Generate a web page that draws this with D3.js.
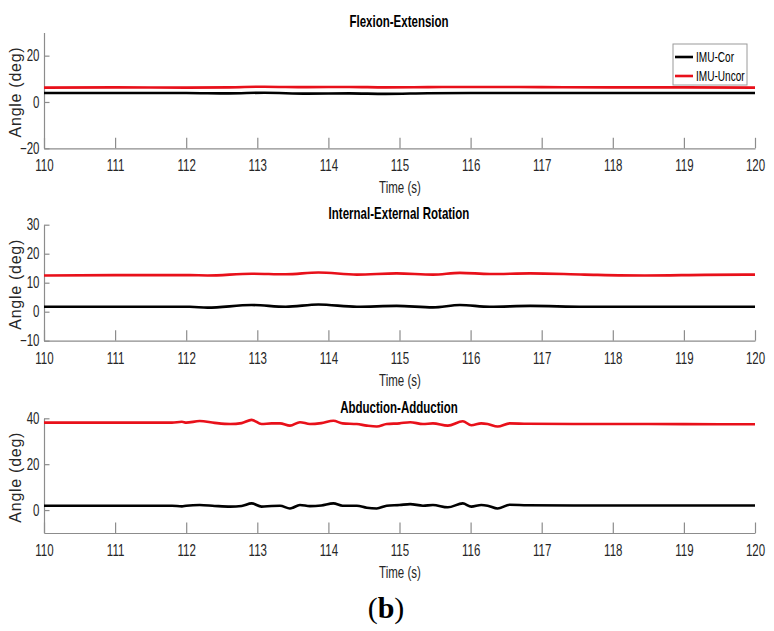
<!DOCTYPE html>
<html>
  <head>
    <meta charset="utf-8">
    <title>IMU angles</title>
    <script src="https://d3js.org/d3.v7.min.js"></script>
    <style>
      body { margin: 0; background: #fff; }
      svg { display: block; }
      text { font-family: "Liberation Sans", Arial, sans-serif; }
      .tick text { font-size: 16px; fill: #262626; }
      .axis path, .axis line { stroke: #8c8c8c; stroke-width: 1.2; }
      .title { font-weight: bold; font-size: 16px; fill: #000; }
      .label { font-size: 16px; fill: #262626; }
      .ylabel { font-size: 16px; fill: #262626; }
      .legend text { font-size: 14px; fill: #000; }
    </style>
  </head>
  <body>
    <svg id="chart" width="774" height="631"></svg>
    <script>
      // data
      var xTicks = [110, 111, 112, 113, 114, 115, 116, 117, 118, 119, 120];
      var seriesNames = ["IMU-Cor", "IMU-Uncor"];
      var seriesColours = ["#000000", "#e8101a"];

      // flexion-extension
      var fxTime = [110, 111, 112, 112.6, 113.1, 113.7, 114.3, 114.8, 115.4, 116, 117, 118, 119, 120];
      var fxCor = [3.9, 3.9, 3.9, 3.7, 4.0, 3.6, 3.7, 3.5, 3.8, 3.9, 3.9, 3.9, 3.9, 3.9];
      var fxUncor = [6.2, 6.3, 6.2, 6.3, 6.6, 6.4, 6.5, 6.3, 6.4, 6.5, 6.4, 6.3, 6.3, 6.2];
      var fxTicks = [-20, 0, 20];

      // internal-external rotation
      var ieTime = [110, 111, 112.05, 112.3, 112.92, 113.4, 113.86, 114.4, 114.96, 115.47, 115.85, 116.27, 116.84, 117.6, 118.45, 119.3, 120];
      var ieCor = [1.7, 1.7, 1.7, 1.4, 2.3, 1.7, 2.5, 1.7, 2.0, 1.5, 2.3, 1.7, 2.0, 1.7, 1.7, 1.7, 1.7];
      var ieUncor = [12.5, 12.6, 12.6, 12.5, 13.1, 12.9, 13.5, 12.8, 13.2, 12.8, 13.4, 13.0, 13.2, 12.8, 12.5, 12.7, 12.8];
      var ieTicks = [-10, 0, 10, 20, 30];

      // abduction-adduction
      var aaTime = [110, 111, 111.8, 111.94, 112.0, 112.19, 112.4, 112.62, 112.78, 112.92, 113.06, 113.2, 113.32, 113.46, 113.6, 113.74, 113.9, 114.07, 114.2, 114.4, 114.54, 114.68, 114.82, 115.0, 115.15, 115.33, 115.47, 115.68, 115.89, 116.01, 116.15, 116.24, 116.38, 116.55, 116.8, 117.5, 118.5, 119.5, 120];
      var aaCor = [1.9, 1.9, 1.9, 1.6, 1.9, 2.2, 1.8, 1.5, 1.8, 2.9, 1.5, 1.8, 1.9, 0.7, 2.2, 1.7, 2.0, 2.9, 1.9, 1.9, 1.0, 0.7, 1.9, 2.2, 2.6, 1.9, 2.2, 1.2, 2.9, 1.5, 2.2, 1.9, 0.7, 2.3, 2.1, 2.0, 2.0, 2.0, 2.0];
      var aaUncor = [38.1, 38.1, 38.1, 38.5, 38.1, 38.8, 38.0, 37.5, 37.9, 39.3, 37.5, 37.8, 37.8, 36.8, 38.3, 37.5, 37.9, 38.9, 37.8, 37.5, 36.8, 36.4, 37.5, 37.8, 38.3, 37.5, 37.8, 36.8, 38.7, 37.0, 37.8, 37.5, 36.4, 37.8, 37.6, 37.5, 37.5, 37.4, 37.4];
      var aaTicks = [0, 20, 40];

      // panel layout
      var panels = [
        { title: "Flexion-Extension", time: fxTime, cor: fxCor, uncor: fxUncor, ticks: fxTicks, domain: [-20, 30], top: 32.5, bottom: 148.3, legend: true },
        { title: "Internal-External Rotation", time: ieTime, cor: ieCor, uncor: ieUncor, ticks: ieTicks, domain: [-10, 30], top: 224.7, bottom: 340.7 },
        { title: "Abduction-Adduction", time: aaTime, cor: aaCor, uncor: aaUncor, ticks: aaTicks, domain: [-10, 40], top: 418.3, bottom: 533 }
      ];

      var chart = d3.select("#chart");
      var left = 44, right = 755;
      var squeeze = 0.72; // the figure uses a condensed face
      var x = d3.scaleLinear().domain([110, 120]).range([left, right]);

      // condensed text placed at (tx, ty)
      function narrowText(parent, tx, ty, cls, anchor, str) {
        return parent.append("text")
          .attr("class", cls)
          .attr("transform", "translate(" + tx + "," + ty + ") scale(" + squeeze + ",1)")
          .attr("dy", "0.35em")
          .attr("text-anchor", anchor)
          .text(str);
      }

      panels.forEach(function(p) {
        var g = chart.append("g");
        var y = d3.scaleLinear().domain(p.domain).range([p.bottom, p.top]);

        var xg = g.append("g")
          .attr("class", "axis")
          .attr("transform", "translate(0," + p.bottom + ")")
          .call(d3.axisBottom(x).tickValues(xTicks).tickFormat(d3.format("d"))
            .tickSizeInner(-10.5).tickSizeOuter(0).tickPadding(11.5));
        xg.selectAll(".tick text").attr("transform", "scale(" + squeeze + ",1)");

        var yg = g.append("g")
          .attr("class", "axis")
          .attr("transform", "translate(" + left + ",0)")
          .call(d3.axisLeft(y).tickValues(p.ticks).tickFormat(d3.format("d"))
            .tickSizeInner(-5.5).tickSizeOuter(0).tickPadding(4.5));
        yg.selectAll(".tick text")
          .attr("x", -4.5 / squeeze)
          .attr("transform", "scale(" + squeeze + ",1)");

        var line = d3.line()
          .x(function(d) { return x(d[0]); })
          .y(function(d) { return y(d[1]); })
          .curve(d3.curveMonotoneX);

        [p.cor, p.uncor].forEach(function(vals, i) {
          g.append("path")
            .datum(p.time.map(function(t, j) { return [t, vals[j]]; }))
            .attr("d", line)
            .attr("fill", "none")
            .attr("stroke", seriesColours[i])
            .attr("stroke-width", 2.6)
            .attr("stroke-linejoin", "round");
        });

        narrowText(g, 399, p.top - 11, "title", "middle", p.title);
        narrowText(g, 400, p.bottom + 39.5, "label", "middle", "Time (s)");

        g.append("text")
          .attr("class", "ylabel")
          .attr("transform", "translate(15," + ((p.top + p.bottom) / 2 + 2) + ") rotate(-90)")
          .attr("dy", "0.35em")
          .attr("text-anchor", "middle")
          .attr("textLength", 90)
          .attr("lengthAdjust", "spacing")
          .text("Angle (deg)");

        if (p.legend) {
          var lg = g.append("g").attr("class", "legend");
          lg.append("rect")
            .attr("x", 673).attr("y", 44)
            .attr("width", 74).attr("height", 41)
            .attr("fill", "#fff")
            .attr("stroke", "#9a9a9a")
            .attr("stroke-width", 1);
          seriesNames.forEach(function(name, i) {
            var ly = 57 + i * 19;
            lg.append("line")
              .attr("x1", 675).attr("x2", 693)
              .attr("y1", ly).attr("y2", ly)
              .attr("stroke", seriesColours[i])
              .attr("stroke-width", 2.6);
            narrowText(lg, 696, ly, null, "start", name);
          });
        }
      });

      // sub-figure tag
      var tag = chart.append("text")
        .attr("x", 386)
        .attr("y", 607)
        .attr("dy", "0.35em")
        .attr("text-anchor", "middle")
        .style("font-family", "'Liberation Serif', 'Times New Roman', serif")
        .style("font-size", "30px")
        .style("fill", "#000");
      tag.append("tspan").text("(");
      tag.append("tspan").style("font-weight", "bold").text("b");
      tag.append("tspan").text(")");
    </script>
  </body>
</html>
